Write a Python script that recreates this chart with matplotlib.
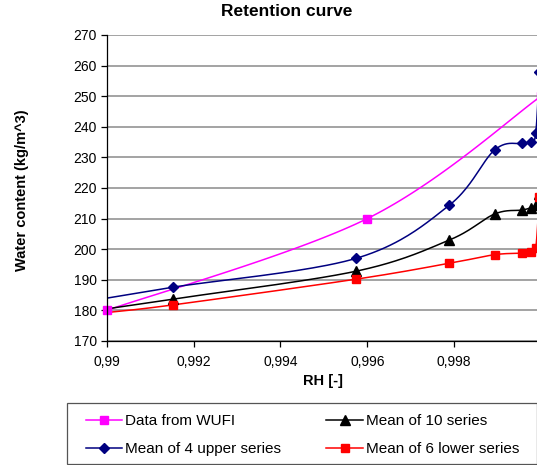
import numpy as np
import matplotlib
matplotlib.use("Agg")
import matplotlib.pyplot as plt
from matplotlib.lines import Line2D
from matplotlib.patches import Rectangle

plt.rcParams['font.family'] = ['Liberation Sans', 'DejaVu Sans']

# ---- data ----
rh_wufi = [0.990, 0.996, 1.000]
wc_wufi = [180.0, 210.0, 250.0]

rh_means = [0.990, 0.99153, 0.99574, 0.99789, 0.99893, 0.99956, 0.99977, 0.99988, 0.99996]
wc_upper4 = [184.0, 187.6, 197.0, 214.4, 232.4, 234.6, 235.1, 238.0, 258.0]
wc_mean10 = [180.5, 183.7, 192.8, 203.0, 211.5, 212.8, 213.6, 214.5, 218.0]
wc_lower6 = [179.3, 181.8, 190.2, 195.4, 198.2, 198.7, 199.0, 200.5, 217.0]

x_ticks = [0.990, 0.992, 0.994, 0.996, 0.998]
x_ticklabels = ["0,99", "0,992", "0,994", "0,996", "0,998"]
y_ticks = [170, 180, 190, 200, 210, 220, 230, 240, 250, 260, 270]

title = "Retention curve"
xlabel = "RH [-]"
ylabel = "Water content (kg/m^3)"
labels = ["Data from WUFI", "Mean of 10 series", "Mean of 4 upper series", "Mean of 6 lower series"]


def smooth(x, y, n=40):
    """Excel-like smoothed line: cubic Bezier segments with Catmull-Rom control points."""
    P = np.column_stack([np.asarray(x, float), np.asarray(y, float)])
    out = [P[0]]
    m = len(P)
    for i in range(m - 1):
        p0 = P[i - 1] if i > 0 else P[i]
        p1 = P[i]
        p2 = P[i + 1]
        p3 = P[i + 2] if i + 2 < m else P[i + 1]
        c1 = p1 + (p2 - p0) / 6.0
        c2 = p2 - (p3 - p1) / 6.0
        t = np.linspace(0, 1, n)[1:, None]
        seg = ((1 - t) ** 3) * p1 + 3 * ((1 - t) ** 2) * t * c1 + 3 * (1 - t) * t ** 2 * c2 + t ** 3 * p2
        out.extend(seg)
    out = np.array(out)
    return out[:, 0], out[:, 1]


W, H = 537, 465
fig = plt.figure(figsize=(W / 100, H / 100), dpi=100)
left_px, right_px, top_px, bot_px = 106.7, 541.0, 35.0, 341.0
ax = fig.add_axes([left_px / W, 1 - bot_px / H, (right_px - left_px) / W, (bot_px - top_px) / H])

# (x, y, colour, marker, size, first index with a visible marker)
series = [
    (rh_wufi, wc_wufi, "#FF00FF", "s", 6, 0),
    (rh_means, wc_mean10, "black", "^", 6.5, 1),
    (rh_means, wc_upper4, "#000080", "D", 5, 1),
    (rh_means, wc_lower6, "#FF0000", "s", 6, 1),
]
order = [2, 1, 3, 0]  # drawing order (WUFI on top)
for k in order:
    xs, ys, col, mk, ms, i0 = series[k]
    sx, sy = smooth(xs, ys)
    ax.plot(sx, sy, color=col, lw=1.1, zorder=3 + k * 0.1)
    ax.plot(xs[i0:], ys[i0:], ls="none", marker=mk, ms=ms, color=col, mec=col,
            zorder=4 + k * 0.1, clip_on=(k != 0))

handles = []
for k in range(4):
    xs, ys, col, mk, ms, i0 = series[k]
    handles.append(Line2D([], [], color=col, lw=1.1, marker=mk, ms=ms, mec=col))

ax.set_xlim(0.990, 1.000)
ax.set_ylim(170, 270)
ax.set_xticks(x_ticks)
ax.set_xticklabels(x_ticklabels)
ax.set_yticks(y_ticks)
ax.tick_params(axis="both", direction="out", length=4, width=0.9, color="black", labelsize=10, pad=3)
ax.tick_params(axis="x", pad=6)
ax.grid(axis="y", color="#8a8a8a", lw=1.1, zorder=1)
ax.set_axisbelow(True)
for s in ["top", "right"]:
    ax.spines[s].set_visible(False)
for s in ["left", "bottom"]:
    ax.spines[s].set_color("black")
    ax.spines[s].set_linewidth(0.9)
    ax.spines[s].set_zorder(5)

fig.text(287 / W, 1 - 12 / H, title, ha="center", va="center", fontsize=12.5, fontweight="bold")
fig.text(323 / W, 1 - 381 / H, xlabel, ha="center", va="center", fontsize=10.5, fontweight="bold")
fig.text(22 / W, 1 - 190 / H, ylabel, ha="center", va="center", rotation=90, fontsize=10.5, fontweight="bold")

# legend frame drawn separately so the inner padding can be wider than the vertical one
lx0, lx1, ly0, ly1 = 67, 536.5, 403, 464
fig.patches.append(Rectangle((lx0 / W, 1 - ly1 / H), (lx1 - lx0) / W, (ly1 - ly0) / H,
                             transform=fig.transFigure, fill=False, edgecolor="#555555",
                             lw=0.9, zorder=0))
# column-major fill -> rows read (WUFI, mean10) / (upper4, lower6)
leg_order = [0, 2, 1, 3]
ix0, ix1 = 78, 527
leg = fig.legend([handles[i] for i in leg_order], [labels[i] for i in leg_order], ncol=2,
                 loc="lower left", mode="expand",
                 bbox_to_anchor=(ix0 / W, 1 - ly1 / H, (ix1 - ix0) / W, (ly1 - ly0) / H),
                 borderaxespad=0, fontsize=11, frameon=False,
                 handlelength=2.4, handletextpad=0.2, columnspacing=1.0, labelspacing=0.95,
                 borderpad=0.5)

fig.savefig("out.png", dpi=100)
